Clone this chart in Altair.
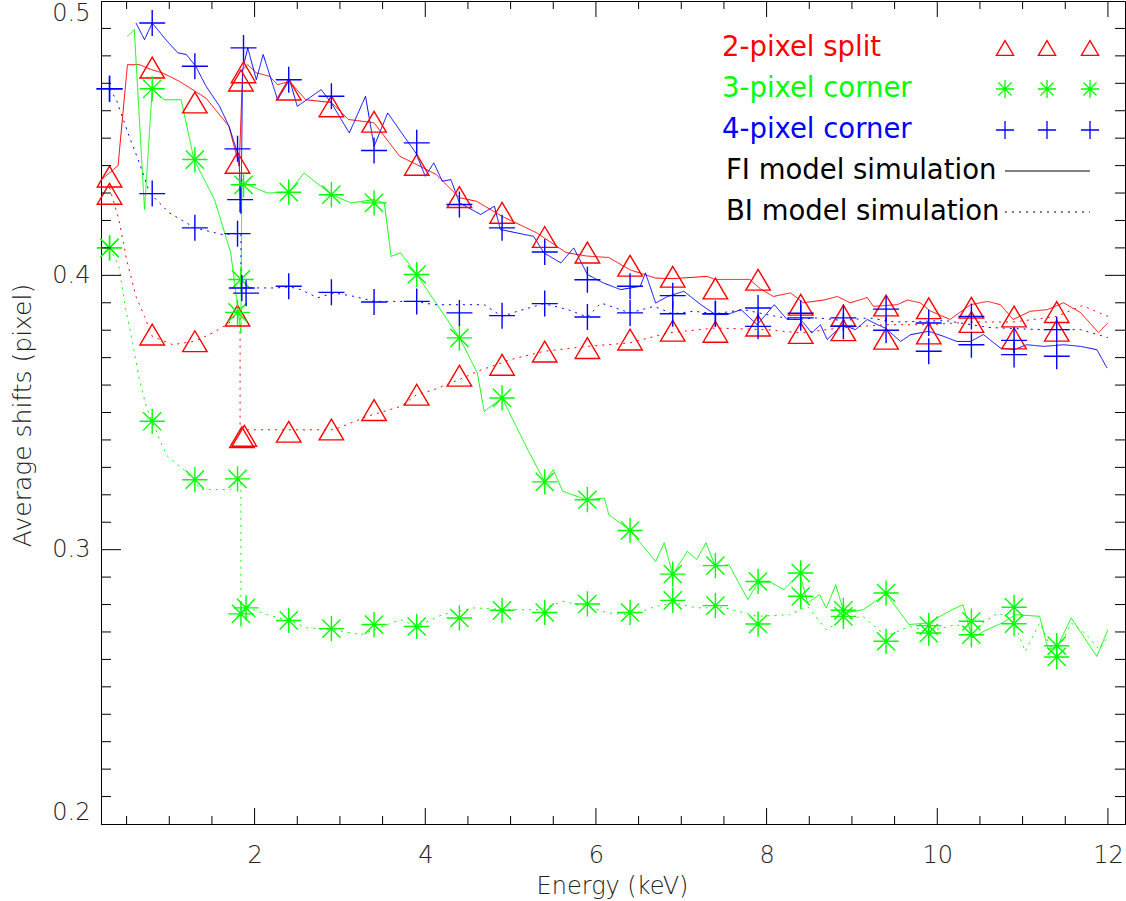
import altair as alt
import pandas as pd

TYPES = ["2-pixel split", "3-pixel corner", "4-pixel corner"]
COLORS = ["#ff0000", "#00ff00", "#0000ff"]
X_LABELS = [2, 4, 6, 8, 10, 12]
Y_LABELS = [0.2, 0.3, 0.4, 0.5]

# ---------------- measured points (markers) ----------------
red_fi_E = [0.3, 0.8, 1.3, 1.8, 1.84, 1.87, 2.4, 2.9, 3.4, 3.9, 4.4, 4.9, 5.4, 5.9, 6.4, 6.9, 7.4, 7.9, 8.4, 8.9, 9.4, 9.9, 10.4, 10.9, 11.4]
red_fi_v = [0.436, 0.4757, 0.463, 0.441, 0.471, 0.474, 0.4677, 0.4616, 0.456, 0.4403, 0.4285, 0.4228, 0.414, 0.4083, 0.4035, 0.3995, 0.3952, 0.3984, 0.3893, 0.3853, 0.389, 0.388, 0.3882, 0.385, 0.3866]
red_bi_E = [0.3, 0.8, 1.3, 1.8, 1.85, 1.88, 2.4, 2.9, 3.4, 3.9, 4.4, 4.9, 5.4, 5.9, 6.4, 6.9, 7.4, 7.9, 8.4, 8.9, 9.4, 9.9, 10.4, 10.9, 11.4]
red_bi_v = [0.4297, 0.3784, 0.376, 0.3853, 0.341, 0.3415, 0.343, 0.3438, 0.3509, 0.3565, 0.3634, 0.3674, 0.3722, 0.3735, 0.3766, 0.3798, 0.3794, 0.3817, 0.379, 0.38, 0.3769, 0.3788, 0.383, 0.377, 0.3798]
green_fi_E = [0.3, 0.8, 1.3, 1.8, 1.84, 1.87, 2.4, 2.9, 3.4, 3.9, 4.4, 4.9, 5.4, 5.9, 6.4, 6.9, 7.4, 7.9, 8.4, 8.9, 9.4, 9.9, 10.4, 10.9, 11.4]
green_fi_v = [0.41, 0.468, 0.4422, 0.3865, 0.3985, 0.433, 0.4303, 0.4294, 0.4264, 0.4003, 0.3772, 0.3553, 0.3247, 0.3182, 0.307, 0.2911, 0.2942, 0.2884, 0.2915, 0.2779, 0.2842, 0.2723, 0.2739, 0.279, 0.265]
green_bi_E = [0.3, 0.8, 1.3, 1.8, 1.84, 1.9, 2.4, 2.9, 3.4, 3.9, 4.4, 4.9, 5.4, 5.9, 6.4, 6.9, 7.4, 7.9, 8.4, 8.9, 9.4, 9.9, 10.4, 10.9, 11.4]
green_bi_v = [0.41, 0.3468, 0.3255, 0.3258, 0.2766, 0.2788, 0.2742, 0.2712, 0.2727, 0.272, 0.2751, 0.2779, 0.2771, 0.2802, 0.2771, 0.2815, 0.2796, 0.2729, 0.283, 0.2757, 0.2666, 0.2696, 0.269, 0.273, 0.2609]
blue_fi_E = [0.3, 0.8, 1.3, 1.8, 1.83, 1.87, 2.4, 2.9, 3.4, 3.9, 4.4, 4.9, 5.4, 5.9, 6.4, 6.9, 7.4, 7.9, 8.4, 8.9, 9.4, 9.9, 10.4, 10.9, 11.4]
blue_fi_v = [0.468, 0.492, 0.4762, 0.4461, 0.4276, 0.4829, 0.4713, 0.4653, 0.4455, 0.4483, 0.4258, 0.4173, 0.4085, 0.3984, 0.396, 0.3926, 0.386, 0.3881, 0.3845, 0.3814, 0.38, 0.3723, 0.3747, 0.3711, 0.3705]
blue_bi_E = [0.3, 0.8, 1.3, 1.8, 1.85, 1.9, 2.4, 2.9, 3.4, 3.9, 4.4, 4.9, 5.4, 5.9, 6.4, 6.9, 7.4, 7.9, 8.4, 8.9, 9.4, 9.9, 10.4, 10.9, 11.4]
blue_bi_v = [0.468, 0.4298, 0.4173, 0.4152, 0.3954, 0.3935, 0.396, 0.3938, 0.3903, 0.3905, 0.3863, 0.3853, 0.3897, 0.3848, 0.3863, 0.386, 0.386, 0.3814, 0.3862, 0.3845, 0.3877, 0.3826, 0.385, 0.3763, 0.3802]

# ---------------- model simulations (lines), (E, value) pairs ----------------
red_fi_sim = [(0.21, 0.435), (0.4, 0.44), (0.51, 0.4768), (0.65, 0.4768), (0.79, 0.475), (0.92, 0.4738), (1.12, 0.4707), (1.43, 0.4646), (1.7, 0.4543), (1.82, 0.4398), (1.86, 0.475), (1.92, 0.4768), (2.02, 0.4738), (2.17, 0.4726), (2.27, 0.4695), (2.41, 0.4707), (2.6, 0.464), (2.9, 0.463), (3.1, 0.4568), (3.4, 0.4556), (3.7, 0.4434), (3.9, 0.4404), (4.13, 0.4367), (4.4, 0.4283), (4.6, 0.427), (4.9, 0.4215), (5.3, 0.4156), (5.65, 0.4083), (5.9, 0.407), (6.15, 0.4065), (6.4, 0.402), (6.7, 0.399), (6.9, 0.3988), (7.3, 0.3996), (7.4, 0.3985), (7.8, 0.3985), (7.93, 0.395), (8.08, 0.3923), (8.28, 0.3936), (8.43, 0.39), (8.67, 0.391), (8.83, 0.3923), (8.98, 0.39), (9.18, 0.3919), (9.25, 0.3887), (9.53, 0.3893), (9.65, 0.391), (9.8, 0.39), (9.92, 0.387), (10.15, 0.3839), (10.39, 0.3893), (10.59, 0.3905), (10.74, 0.3893), (10.89, 0.3839), (11.09, 0.3869), (11.29, 0.3875), (11.48, 0.39), (11.68, 0.3864), (11.89, 0.3791), (12.0, 0.3827)]
red_bi_sim = [(0.3, 0.432), (0.41, 0.4203), (0.5, 0.4057), (0.61, 0.3923), (0.71, 0.385), (0.8, 0.3778), (1.04, 0.3747), (1.3, 0.376), (1.51, 0.379), (1.7, 0.3826), (1.8, 0.3863), (1.83, 0.3863), (1.83, 0.3437), (2.1, 0.3437), (2.4, 0.3437), (2.93, 0.3437), (3.32, 0.3486), (3.71, 0.3522), (3.9, 0.3565), (4.1, 0.3583), (4.4, 0.362), (4.61, 0.365), (5.0, 0.3693), (5.39, 0.3723), (5.9, 0.3741), (6.4, 0.3754), (6.84, 0.379), (7.4, 0.3808), (8.0, 0.3802), (8.4, 0.379), (8.9, 0.381), (9.4, 0.382), (9.9, 0.382), (10.4, 0.383), (10.9, 0.383), (11.4, 0.385), (11.7, 0.389), (12.0, 0.385)]
green_fi_sim = [(0.51, 0.4871), (0.59, 0.4896), (0.71, 0.424), (0.8, 0.468), (0.94, 0.464), (1.14, 0.464), (1.29, 0.4422), (1.53, 0.4276), (1.72, 0.4083), (1.8, 0.3887), (1.84, 0.379), (1.85, 0.435), (1.92, 0.433), (2.15, 0.43), (2.4, 0.4303), (2.58, 0.4373), (2.9, 0.4294), (3.13, 0.4264), (3.4, 0.4276), (3.52, 0.4264), (3.6, 0.4069), (3.71, 0.4082), (3.9, 0.4003), (4.1, 0.3911), (4.4, 0.3773), (4.61, 0.3645), (4.69, 0.3504), (4.9, 0.3553), (5.2, 0.3365), (5.4, 0.3247), (5.5, 0.3292), (5.61, 0.3213), (5.89, 0.3182), (6.1, 0.3188), (6.15, 0.3128), (6.4, 0.307), (6.7, 0.2957), (6.8, 0.3025), (6.9, 0.2909), (7.07, 0.2994), (7.18, 0.2964), (7.29, 0.3025), (7.4, 0.2939), (7.56, 0.2945), (7.78, 0.2818), (7.9, 0.2881), (8.05, 0.2881), (8.2, 0.2854), (8.39, 0.2912), (8.48, 0.2806), (8.62, 0.2836), (8.7, 0.2787), (8.81, 0.2872), (8.91, 0.2769), (9.13, 0.2781), (9.4, 0.2839), (9.67, 0.2727), (9.9, 0.2733), (10.17, 0.2781), (10.3, 0.2799), (10.41, 0.2678), (10.54, 0.2702), (10.76, 0.2733), (10.92, 0.2763), (11.2, 0.2757), (11.3, 0.2636), (11.41, 0.2648), (11.57, 0.2751), (11.87, 0.2611), (12.0, 0.2708)]
green_bi_sim = [(0.3, 0.41), (0.41, 0.4033), (0.49, 0.3875), (0.57, 0.3755), (0.65, 0.362), (0.73, 0.3522), (0.8, 0.3468), (0.92, 0.3377), (0.98, 0.334), (1.17, 0.3292), (1.37, 0.3219), (1.72, 0.3219), (1.8, 0.3258), (1.84, 0.3258), (1.84, 0.278), (1.92, 0.2788), (2.15, 0.2763), (2.4, 0.2742), (2.62, 0.2715), (2.93, 0.2708), (3.25, 0.269), (3.71, 0.2745), (3.9, 0.272), (4.2, 0.2763), (4.58, 0.2788), (4.96, 0.2781), (5.34, 0.2781), (5.61, 0.2812), (5.88, 0.2793), (6.15, 0.2769), (6.42, 0.2763), (6.7, 0.2793), (6.91, 0.2806), (7.18, 0.2788), (7.51, 0.2788), (7.89, 0.2757), (8.27, 0.2763), (8.48, 0.2793), (8.7, 0.2708), (8.89, 0.2745), (9.13, 0.2757), (9.4, 0.2684), (9.67, 0.272), (9.9, 0.2702), (10.22, 0.2727), (10.41, 0.2708), (10.71, 0.2769), (10.89, 0.2745), (11.03, 0.2629), (11.2, 0.2733), (11.38, 0.2611), (11.57, 0.2733), (11.73, 0.2696), (11.9, 0.2636), (12.0, 0.2684)]
blue_fi_sim = [(0.61, 0.492), (0.71, 0.4859), (0.8, 0.492), (0.96, 0.4859), (1.1, 0.4811), (1.2, 0.4805), (1.31, 0.4762), (1.43, 0.469), (1.59, 0.4616), (1.7, 0.4543), (1.8, 0.4446), (1.82, 0.441), (1.84, 0.4225), (1.86, 0.475), (1.92, 0.4829), (2.02, 0.4713), (2.1, 0.4805), (2.27, 0.464), (2.41, 0.4713), (2.5, 0.4616), (2.78, 0.4677), (2.9, 0.4628), (3.11, 0.4519), (3.3, 0.4653), (3.4, 0.447), (3.56, 0.4592), (3.71, 0.4525), (3.89, 0.4446), (4.0, 0.4361), (4.1, 0.441), (4.2, 0.4343), (4.3, 0.4349), (4.4, 0.4264), (4.65, 0.4222), (4.81, 0.4252), (4.88, 0.4167), (5.27, 0.4142), (5.39, 0.4082), (5.59, 0.4045), (5.74, 0.41), (5.9, 0.4003), (6.09, 0.3972), (6.29, 0.3948), (6.52, 0.396), (6.58, 0.4009), (6.7, 0.3899), (6.84, 0.3923), (7.03, 0.3942), (7.23, 0.3893), (7.4, 0.3857), (7.54, 0.3857), (7.7, 0.3875), (7.89, 0.382), (8.09, 0.3893), (8.24, 0.3839), (8.4, 0.3839), (8.53, 0.379), (8.63, 0.382), (8.71, 0.3766), (8.89, 0.382), (9.04, 0.3802), (9.18, 0.3839), (9.3, 0.382), (9.39, 0.3808), (9.57, 0.3759), (9.69, 0.3784), (9.9, 0.3796), (10.07, 0.3778), (10.23, 0.3759), (10.39, 0.3759), (10.54, 0.3784), (10.74, 0.3735), (10.9, 0.3729), (11.05, 0.3747), (11.25, 0.3741), (11.48, 0.3747), (11.68, 0.3741), (11.87, 0.3729), (11.99, 0.3662)]
blue_bi_sim = [(0.3, 0.468), (0.38, 0.464), (0.53, 0.4507), (0.65, 0.441), (0.77, 0.43), (1.0, 0.4228), (1.3, 0.4173), (1.63, 0.4148), (1.8, 0.4152), (1.84, 0.4152), (1.84, 0.3954), (1.98, 0.3954), (2.25, 0.3954), (2.41, 0.3958), (2.54, 0.3948), (2.74, 0.3918), (2.93, 0.3936), (3.17, 0.3923), (3.4, 0.3905), (3.68, 0.3905), (3.89, 0.3905), (4.1, 0.3893), (4.4, 0.3893), (4.69, 0.3893), (4.9, 0.385), (5.08, 0.3869), (5.39, 0.3897), (5.67, 0.3875), (5.9, 0.3848), (6.06, 0.3899), (6.4, 0.3863), (6.68, 0.3887), (6.9, 0.386), (7.15, 0.3869), (7.4, 0.386), (7.73, 0.3875), (8.0, 0.3857), (8.32, 0.3839), (8.6, 0.3845), (8.9, 0.3835), (9.2, 0.3845), (9.5, 0.383), (9.8, 0.3832), (10.1, 0.3835), (10.6, 0.381), (11.2, 0.3802), (11.68, 0.3802), (12.0, 0.3773)]

# axis tick positions
X_MINOR = [0.5, 1.0, 1.5, 2.5, 3.0, 3.5, 4.5, 5.0, 5.5, 6.5, 7.0, 7.5, 8.5, 9.0, 9.5, 10.5, 11.0, 11.5]
X_MAJOR = [2, 4, 6, 8, 10, 12]
Y_MINOR = [round(0.2 + 0.01 * k, 2) for k in range(1, 30) if k not in (10, 20)]
Y_MAJOR = [0.3, 0.4]

LEGEND_LABELS = ["2-pixel split", "3-pixel corner", "4-pixel corner",
                 "FI model simulation", "BI model simulation"]

# ---------------- tables ----------------
mark_rows = []
for t, (fe, fv, be, bv) in zip(TYPES, [(red_fi_E, red_fi_v, red_bi_E, red_bi_v),
                                      (green_fi_E, green_fi_v, green_bi_E, green_bi_v),
                                      (blue_fi_E, blue_fi_v, blue_bi_E, blue_bi_v)]):
    for e, v in zip(fe, fv):
        mark_rows.append({"E": e, "v": v, "type": t, "det": "FI"})
    for e, v in zip(be, bv):
        mark_rows.append({"E": e, "v": v, "type": t, "det": "BI"})
marks_df = pd.DataFrame(mark_rows)

line_rows = []
for t, fi, bi in zip(TYPES, [red_fi_sim, green_fi_sim, blue_fi_sim],
                     [red_bi_sim, green_bi_sim, blue_bi_sim]):
    for det, pts in (("FI", fi), ("BI", bi)):
        for i, (e, v) in enumerate(pts):
            line_rows.append({"E": e, "v": v, "type": t, "det": det,
                              "key": t + det, "i": i})
lines_df = pd.DataFrame(line_rows)

W, H = 1024, 823
FONT = "DejaVu Sans"
TXT = "#222222"

xscale = alt.Scale(domain=[0.2, 12.2], nice=False, zero=False)
yscale = alt.Scale(domain=[0.2, 0.5], nice=False, zero=False)
xaxis = alt.Axis(values=X_LABELS, format="d", ticks=False, tickSize=0, grid=False,
                 domainColor="black", domainWidth=1, labelFont=FONT, labelFontSize=24,
                 labelFontWeight=200, labelColor=TXT, labelPadding=19, labelFlush=False,
                 title="Energy (keV)", titleFont=FONT, titleFontSize=24,
                 titleFontWeight=200, titleColor=TXT, titleX=511, titleY=69,
                 titleBaseline="alphabetic", titleAlign="center")
yaxis = alt.Axis(values=Y_LABELS, format=".1f", ticks=False, tickSize=0, grid=False,
                 domainColor="black", domainWidth=1, labelFont=FONT, labelFontSize=24,
                 labelFontWeight=200, labelColor=TXT, labelPadding=11, labelFlush=True,
                 title="Average shifts (pixel)", titleFont=FONT, titleFontSize=25,
                 titleFontWeight=200, titleColor=TXT, titleAngle=270, titleX=-71,
                 titleY=414, titleBaseline="alphabetic", titleAlign="center")

X = alt.X("E:Q", scale=xscale, axis=xaxis, title="Energy (keV)")
Y = alt.Y("v:Q", scale=yscale, axis=yaxis, title="Average shifts (pixel)")

color = alt.Color("type:N", scale=alt.Scale(domain=TYPES, range=COLORS), legend=None)

TRI = "M-1,0.85L1,0.85L0,-0.85Z"
AST = "M-1,0L1,0M0,-1L0,1M-0.72,-0.72L0.72,0.72M-0.72,0.72L0.72,-0.72"
CROSS = "M-1,0L1,0M0,-1L0,1"

lines = alt.Chart(lines_df).mark_line(strokeWidth=1, clip=True).encode(
    x=X, y=Y, color=color,
    strokeDash=alt.StrokeDash("det:N", scale=alt.Scale(domain=["FI", "BI"], range=[[1, 0], [2, 5]]), legend=None),
    detail="key:N",
    order=alt.Order("i:Q"),
)

points = alt.Chart(marks_df).mark_point(filled=False, strokeWidth=1.4, opacity=1).encode(
    x=X, y=Y, color=color,
    shape=alt.Shape("type:N", scale=alt.Scale(domain=TYPES, range=[TRI, AST, CROSS]), legend=None),
    size=alt.Size("type:N", scale=alt.Scale(domain=TYPES, range=[600, 676, 729]), legend=None),
)

# inward ticks on all four sides
ymin_df = pd.DataFrame({"v": Y_MINOR})
ymaj_df = pd.DataFrame({"v": Y_MAJOR})
xmin_df = pd.DataFrame({"E": X_MINOR})
xmaj_df = pd.DataFrame({"E": X_MAJOR})
tick_layers = []
for df, ln in ((ymin_df, 10), (ymaj_df, 20)):
    tick_layers.append(alt.Chart(df).mark_rule(color="black", strokeWidth=1).encode(
        y=Y, x=alt.value(0), x2=alt.value(ln)))
    tick_layers.append(alt.Chart(df).mark_rule(color="black", strokeWidth=1).encode(
        y=Y, x=alt.value(W - ln), x2=alt.value(W)))
for df, ln in ((xmin_df, 8), (xmaj_df, 16)):
    tick_layers.append(alt.Chart(df).mark_rule(color="black", strokeWidth=1).encode(
        x=X, y=alt.value(H), y2=alt.value(H - ln)))
    tick_layers.append(alt.Chart(df).mark_rule(color="black", strokeWidth=1).encode(
        x=X, y=alt.value(0), y2=alt.value(ln)))

# legend (manual, upper right)
one = alt.Data(values=[{"a": 1}])
legend_layers = []
text_colors = COLORS + ["#000000", "#000000"]
for k, lab in enumerate(LEGEND_LABELS):
    tx = 621 if k < 3 else 625
    legend_layers.append(alt.Chart(one).mark_text(
        text=lab, align="left", baseline="alphabetic", font=FONT, fontSize=27.5,
        color=text_colors[k]).encode(x=alt.value(tx), y=alt.value(55 + 41 * k)))
sym_shapes = [TRI, AST, CROSS]
sym_sizes = [300, 330, 330]
for k in range(3):
    for sx in (904, 946, 989):
        legend_layers.append(alt.Chart(one).mark_point(
            shape=sym_shapes[k], size=sym_sizes[k], filled=False, strokeWidth=1.3,
            color=COLORS[k], opacity=1).encode(x=alt.value(sx), y=alt.value(47 + 41 * k)))
legend_layers.append(alt.Chart(one).mark_rule(color="black", strokeWidth=1).encode(
    x=alt.value(904), x2=alt.value(989), y=alt.value(170)))
legend_layers.append(alt.Chart(one).mark_rule(color="black", strokeWidth=1, strokeDash=[2, 5]).encode(
    x=alt.value(904), x2=alt.value(989), y=alt.value(211)))

chart = alt.layer(lines, points, *tick_layers, *legend_layers).properties(
    width=W, height=H,
    autosize=alt.AutoSizeParams(type="none"),
    padding={"left": 101, "top": 1, "right": 1, "bottom": 77},
    background="white",
).configure_view(stroke="black", strokeWidth=1)

chart.save("out.html", embed_options={"renderer": "svg", "actions": False})
